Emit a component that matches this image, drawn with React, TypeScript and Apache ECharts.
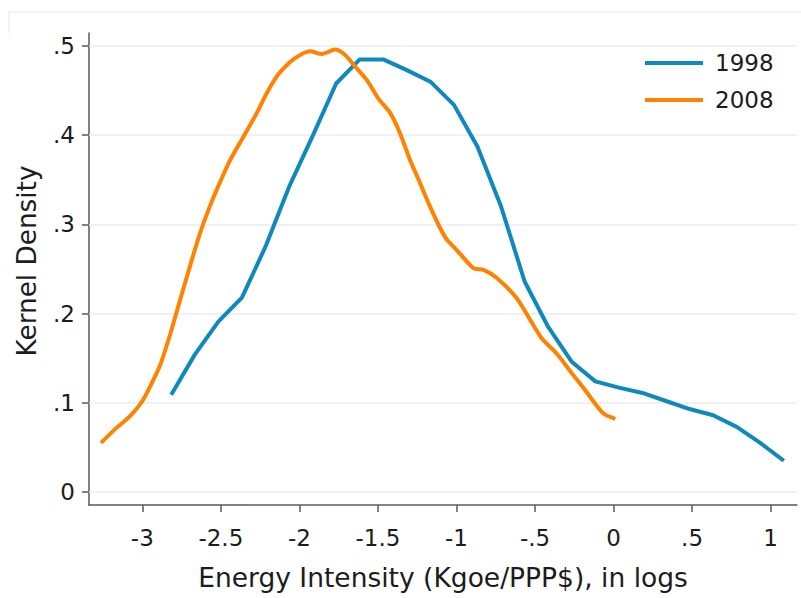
import React, { useEffect, useRef } from "react";
import * as echarts from "echarts";

const seriesNames = ["1998", "2008"];

const x1998 = [
  -2.816, -2.666, -2.516, -2.366, -2.216, -2.066, -1.916, -1.766, -1.616, -1.466,
  -1.316, -1.166, -1.016, -0.866, -0.716, -0.566, -0.416, -0.266, -0.116, 0.034,
  0.184, 0.334, 0.484, 0.634, 0.784, 0.934, 1.084,
];
const y1998 = [
  0.109, 0.154, 0.191, 0.218, 0.275, 0.342, 0.399, 0.458, 0.485, 0.485,
  0.473, 0.46, 0.434, 0.387, 0.32, 0.236, 0.185, 0.146, 0.124, 0.117,
  0.111, 0.102, 0.093, 0.086, 0.073, 0.055, 0.035,
];

const x2008 = [
  -3.263, -3.17, -3.078, -3.0, -2.951, -2.887, -2.824, -2.76, -2.697, -2.633,
  -2.575, -2.526, -2.441, -2.357, -2.271, -2.208, -2.144, -2.059, -1.995, -1.932,
  -1.857, -1.773, -1.709, -1.645, -1.571, -1.497, -1.422, -1.359, -1.295, -1.231,
  -1.168, -1.104, -1.061, -0.997, -0.892, -0.828, -0.743, -0.615, -0.531, -0.456,
  -0.361, -0.265, -0.18, -0.117, -0.064, 0.011,
];
const y2008 = [
  0.055, 0.071, 0.085, 0.102, 0.118, 0.142, 0.176, 0.215, 0.253, 0.29,
  0.318, 0.339, 0.372, 0.398, 0.425, 0.447, 0.466, 0.482, 0.49, 0.494,
  0.491, 0.496, 0.49, 0.477, 0.462, 0.441, 0.425, 0.402, 0.372, 0.346,
  0.32, 0.296, 0.283, 0.271, 0.251, 0.249, 0.24, 0.217, 0.193, 0.172,
  0.155, 0.133, 0.114, 0.099, 0.088, 0.082,
];

const xTickValues = [-3, -2.5, -2, -1.5, -1, -0.5, 0, 0.5, 1];
const xTickLabels = ["-3", "-2.5", "-2", "-1.5", "-1", "-.5", "0", ".5", "1"];
const yTickValues = [0, 0.1, 0.2, 0.3, 0.4, 0.5];
const yTickLabels = ["0", ".1", ".2", ".3", ".4", ".5"];

const xTitle = "Energy Intensity (Kgoe/PPP$), in logs";
const yTitle = "Kernel Density";

const FONT = "DejaVu Sans";
const TEXT = "#1c1c1c";
const AXIS = "#5a5a5a";
const GRID = "#e8eef2";
const COLORS = ["#0f89bb", "#ff8200"];

function labelFor(values: number[], labels: string[], v: number) {
  let best = 0;
  for (let i = 0; i < values.length; i++) {
    if (Math.abs(values[i] - v) < Math.abs(values[best] - v)) best = i;
  }
  return labels[best];
}

export default function App() {
  const ref = useRef<HTMLDivElement>(null);

  useEffect(() => {
    const chart = echarts.init(ref.current!, null, { renderer: "svg" });
    const d1998 = x1998.map((x, i) => [x, y1998[i]]);
    const d2008 = x2008.map((x, i) => [x, y2008[i]]);

    chart.setOption({
      animation: false,
      backgroundColor: "#ffffff",
      textStyle: { fontFamily: FONT },
      grid: { left: 89, right: 4, top: 33, bottom: 93, containLabel: false },
      xAxis: {
        type: "value",
        min: -3.3395,
        max: 1.168,
        axisLine: { show: true, onZero: false, lineStyle: { color: AXIS, width: 1.5 } },
        axisTick: {
          show: true,
          length: 7,
          customValues: xTickValues,
          lineStyle: { color: AXIS, width: 1.5 },
        },
        axisLabel: {
          show: true,
          customValues: xTickValues,
          margin: 21,
          fontSize: 23,
          fontFamily: FONT,
          color: TEXT,
          formatter: (v: number) => labelFor(xTickValues, xTickLabels, v),
        },
        splitLine: { show: false },
      },
      yAxis: {
        type: "value",
        min: -0.0146,
        max: 0.5146,
        axisLine: { show: true, onZero: false, lineStyle: { color: AXIS, width: 1.5 } },
        axisTick: {
          show: true,
          length: 7,
          customValues: yTickValues,
          lineStyle: { color: AXIS, width: 1.5 },
        },
        axisLabel: {
          show: true,
          customValues: yTickValues,
          margin: 14,
          fontSize: 23,
          fontFamily: FONT,
          color: TEXT,
          formatter: (v: number) => labelFor(yTickValues, yTickLabels, v),
        },
        splitLine: { show: false },
      },
      legend: {
        orient: "vertical",
        left: 645,
        top: 49,
        padding: 0,
        icon: "rect",
        itemWidth: 58,
        itemHeight: 4,
        itemGap: 9,
        textStyle: { fontSize: 23, fontFamily: FONT, color: TEXT, lineHeight: 28, padding: [0, 0, 0, 7] },
        data: seriesNames,
      },
      graphic: [
        {
          type: "polyline",
          shape: { points: [[9, 33], [9, 12], [801, 12]] },
          style: { fill: "none", stroke: "#eef2f5", lineWidth: 1.5 },
          silent: true,
        },
        {
          type: "text",
          x: 443,
          y: 577.5,
          style: {
            text: xTitle,
            fontSize: 26.5,
            fontFamily: FONT,
            fill: TEXT,
            align: "center",
            verticalAlign: "middle",
          },
        },
        {
          type: "text",
          x: 27,
          y: 261,
          rotation: Math.PI / 2,
          style: {
            text: yTitle,
            fontSize: 26.3,
            fontFamily: FONT,
            fill: TEXT,
            align: "center",
            verticalAlign: "middle",
          },
        },
      ],
      series: [
        {
          name: seriesNames[0],
          type: "line",
          data: d1998,
          showSymbol: false,
          symbol: "none",
          color: COLORS[0],
          lineStyle: { color: COLORS[0], width: 4, join: "round" },
          z: 3,
          markLine: {
            silent: true,
            z: 1,
            symbol: ["none", "none"],
            label: { show: false },
            lineStyle: { color: GRID, width: 1.5, type: "solid" },
            emphasis: { disabled: true },
            data: yTickValues.map((v) => ({ yAxis: v })),
          },
        },
        {
          name: seriesNames[1],
          type: "line",
          data: d2008,
          showSymbol: false,
          symbol: "none",
          smooth: 0.25,
          color: COLORS[1],
          lineStyle: { color: COLORS[1], width: 4, join: "round" },
          z: 4,
        },
      ],
    });

    return () => chart.dispose();
  }, []);

  return (
    <div
      ref={ref}
      style={{ position: "fixed", left: 0, top: 0, width: 801, height: 598 }}
    />
  );
}
